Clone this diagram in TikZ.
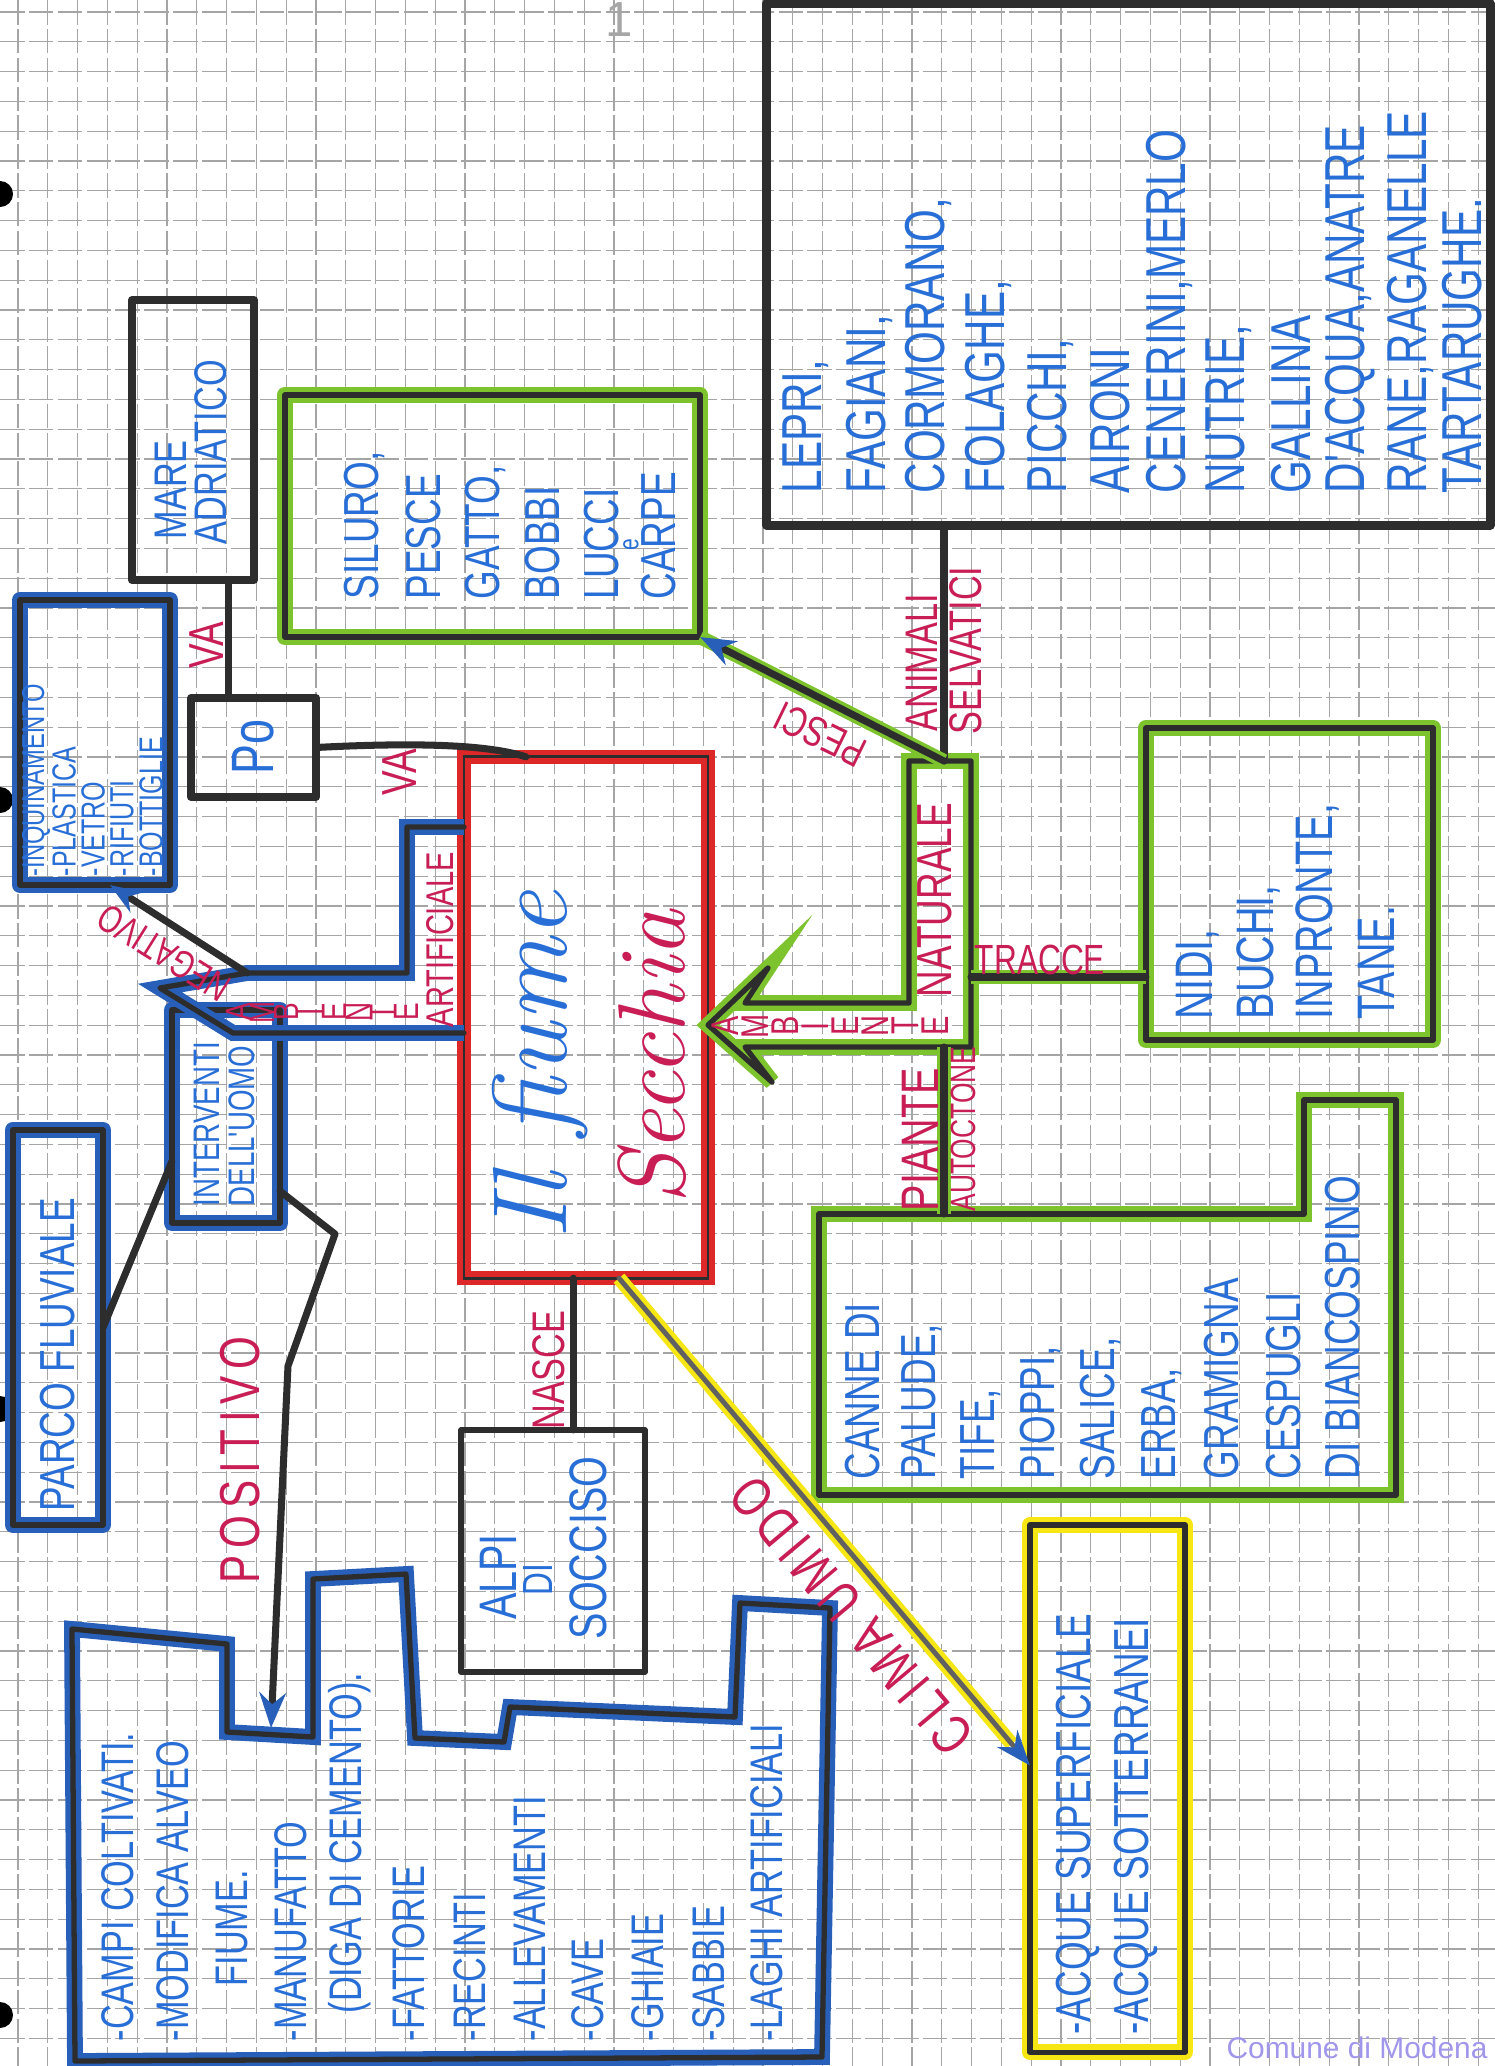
\documentclass[tikz,border=0pt]{standalone}
\usepackage{fontspec}
\usepackage{tikz}
\usetikzlibrary{arrows.meta,calc}

\newfontfamily\hand[FakeStretch=0.75]{Liberation Sans}
\newfontfamily\handsp[FakeStretch=0.75,LetterSpace=12]{Liberation Sans}
\newfontfamily\plain{Liberation Sans}
\newcommand{\fsz}[1]{\fontsize{#1}{#1}\selectfont}

\definecolor{pencil}{RGB}{45,45,45}
\definecolor{leaf}{RGB}{125,195,45}
\definecolor{crayonblue}{RGB}{40,95,185}
\definecolor{crayonred}{RGB}{220,40,40}
\definecolor{crayonyellow}{RGB}{245,230,20}
\definecolor{inkblue}{RGB}{40,110,215}
\definecolor{inkred}{RGB}{200,30,85}
\definecolor{gridgray}{RGB}{165,165,165}
\definecolor{stamp}{RGB}{160,150,235}

\tikzset{
  inkline/.style={draw=pencil, line width=1.5pt, line join=round, line cap=round},
  blackbox/.style={inkline, line width=2.2pt},
  greenbox/.style={inkline, preaction={draw=leaf, line width=4.5pt}},
  bluebox/.style={inkline, preaction={draw=crayonblue, line width=4.5pt}},
  yellowbox/.style={inkline, preaction={draw=crayonyellow, line width=4.5pt}},
  redbox/.style={draw=pencil, line width=0.8pt, preaction={draw=crayonred, line width=4pt}},
  box/.style={rectangle, inner sep=0pt, outer sep=0pt},
  link/.style={inkline, line width=2pt},
  vtxt/.style={rotate=90, anchor=west, inner sep=0pt, text=inkblue, font=\hand\fsz{#1}},
  vtxt/.default=13,
  tag/.style={inner sep=0pt, text=inkred, font=\hand\fsz{#1}},
  tag/.default=12,
  lbl/.style={tag=#1, rotate=90},
  lbl/.default=12
}

\begin{document}
\begin{tikzpicture}[x=0.01cm, y=-0.01cm]
  \useasboundingbox (0,0) rectangle (1495,2066);

  % squared paper
  \fill[white] (0,0) rectangle (1495,2066);
  \begin{scope}
    \clip (0,0) rectangle (1495,2066);
    \foreach \k in {0,...,50}
      \draw[gridgray, line width=0.35pt, dash pattern=on 7pt off 1.2pt] (18+29.8*\k,0) -- ++(0,2066);
    \foreach \k in {0,...,69}
      \draw[gridgray, line width=0.35pt, dash pattern=on 7pt off 1.2pt] (0,12+29.8*\k) -- ++(1495,0);
    \foreach \y in {194,800,1409,2015}
      \fill[black] (0,\y) circle (0.13cm);
  \end{scope}
  \node[text=gray!70, font=\plain\fsz{14}] (pagenum) at (619,20) {1};
  \node[text=stamp, font=\plain\fsz{8.5}] (stamp) at (1357,2048) {Comune di Modena};

  % boxes
  \node[box, blackbox, line width=2.5pt, minimum width=7.23cm, minimum height=5.21cm] (animals) at (1128.5,264.5) {};
  \node[box, greenbox, minimum width=4.15cm, minimum height=2.42cm] (fish) at (492.5,516) {};
  \node[box, blackbox, minimum width=1.22cm, minimum height=2.8cm] (mare) at (193,440) {};
  \node[box, blackbox, minimum width=1.25cm, minimum height=0.99cm] (po) at (253.5,747.5) {};
  \node[box, bluebox, minimum width=1.5cm, minimum height=2.85cm] (pollu) at (95,742.5) {};
  \node[box, redbox, minimum width=2.44cm, minimum height=5.21cm] (secchia) at (586,1017.5) {};
  \node[box, greenbox, minimum width=2.87cm, minimum height=3.12cm] (nests) at (1289.5,884) {};
  \node[box, bluebox, minimum width=1.08cm, minimum height=2.13cm] (interv) at (226,1116.5) {};
  \node[box, bluebox, minimum width=0.9cm, minimum height=3.95cm] (parco) at (58,1327.5) {};
  \node[box, inkline, minimum width=1.84cm, minimum height=2.42cm] (alpi) at (553,1551) {};
  \node[box, yellowbox, minimum width=1.55cm, minimum height=5.27cm] (acque) at (1107.5,1788.5) {};

  % plants and human works
  \draw[greenbox] (819,1214) -- (1304,1214) -- (1304,1100) -- (1396,1100)
    -- (1396,1495) -- (819,1495) -- cycle;
  \draw[bluebox] (72,1629) -- (227,1644) -- (227,1732) -- (313,1737) -- (313,1579)
    -- (406,1574) -- (415,1738) -- (504,1742) -- (510,1707) -- (735,1717)
    -- (740,1603) -- (830,1608) -- (822,2057) -- (75,2061) -- cycle;
  \coordinate (notch) at (271,1728);

  % natural environment
  \coordinate (natA) at (944,761);
  \coordinate (natB) at (944,1047);
  \coordinate (natE) at (971,977);
  \draw[greenbox] (secchia.east |- 0,1025) -- (768,968) -- (745,1003) -- (909,1003)
    -- (909,761) -- (971,761) -- (971,1047) -- (745,1047) -- (772,1082) -- cycle;
  \foreach \l [count=\i] in {A,M,B,I,E,N,T,E}
    \node[lbl=11] (natl\i) at (695+30*\i,1026) {\l};
  \node[lbl=14, anchor=west] (natural) at (935,998) {NATURALE};

  % artificial environment
  \coordinate (artL) at (247,973);
  \draw[bluebox] (secchia.west |- 0,827) -- (407,827) -- (407,973) -- (artL)
    -- (160,988) -- (233,1033) -- (secchia.west |- 0,1033);
  \foreach \l [count=\i] in {A,M,B,I,E,N,T,E}
    \node[lbl=10] (artl\i) at (214+24*\i,1012) {\l};
  \node[lbl=11, anchor=west] (artificial) at (440,1028) {ARTIFICIALE};

  % connectors
  \draw[link] ([xshift=0.35cm]mare.south) -- ([xshift=0.35cm]mare.south |- po.north);
  \node[lbl=14] (va1) at (207,645) {VA};
  \draw[link] (po.east) .. controls (420,742) and (490,745) .. ([xshift=0.62cm]secchia.north west);
  \node[lbl=14] (va2) at (400,772) {VA};

  \draw[link, -{Stealth[length=9pt, color=crayonblue]}] (artL) -- ([xshift=0.15cm]pollu.south)
    node[pos=0.5, rotate=148, anchor=south, tag=11, inner sep=3pt] (negativo) {NEGATIVO};
  \draw[link, -{Stealth[length=10pt, color=crayonblue]}]
    ($(interv.north east)!0.85!(interv.south east)$) -- (335,1234) -- (288,1366) -- (notch);
  \node[lbl=16, font=\handsp\fsz{16}] (positivo) at (240,1460) {POSITIVO};
  \draw[link] ($(interv.north west)!0.71!(interv.south west)$) -- (parco.east);

  \draw[link] ([xshift=0.2cm]alpi.north) -- ([xshift=0.2cm]alpi.north |- secchia.south);
  \node[lbl=13] (nasce) at (549,1370) {NASCE};

  \draw[crayonyellow, line width=4pt, shorten >=8pt] ([xshift=0.33cm]secchia.south) -- ([yshift=0.23cm]acque.west);
  \draw[link, draw=pencil!75, line width=1.4pt, -{Stealth[length=10pt, color=crayonblue]}]
    ([xshift=0.33cm]secchia.south) -- ([yshift=0.23cm]acque.west)
    node[pos=0.64, rotate=130, anchor=south, tag=16, font=\handsp\fsz{16}, inner sep=5pt] (clima) {CLIMA UMIDO};

  \draw[link] (natA) -- (natA |- animals.south);
  \node[lbl=13, anchor=west] (animali) at (922,732) {ANIMALI};
  \node[lbl=13, anchor=west] (selvatici) at (966,735) {SELVATICI};
  \draw[link, -{Stealth[length=10pt, color=crayonblue]}, preaction={draw=leaf, line width=4pt, arrows=-}]
    (natA) -- (fish.south east) node[pos=0.45, rotate=154, anchor=south, tag=12, inner sep=4pt] (pesci) {PESCI};

  \draw[link, preaction={draw=leaf, line width=4pt}] (natB) -- (natB |- 0,1214);
  \node[lbl=15, anchor=west] (piante) at (920,1212) {PIANTE};
  \node[lbl=10, anchor=west] (autoctone) at (963,1212) {AUTOCTONE};
  \draw[link, preaction={draw=leaf, line width=4pt}] (natE) -- (natE -| nests.west);
  \node[tag=12] (tracce) at (1040,960) {TRACCE};

  % texts in the boxes
  \foreach \x/\t [count=\i] in {806/{LEPRI,}, 869/{FAGIANI,}, 928/{CORMORANO,}, 988/{FOLAGHE,},
      1050/{PICCHI,}, 1110/{AIRONI}, 1169/{CENERINI,MERLO}, 1229/{NUTRIE,}, 1291/{GALLINA},
      1350/{D'ACQUA,ANATRE}, 1410/{RANE,RAGANELLE}, 1462/{TARTARUGHE.}}
    \node[vtxt=16] (ani\i) at (\x,494) {\t};
  \foreach \x/\t [count=\i] in {364/{SILURO,}, 424/{PESCE}, 485/{GATTO,}, 543/{BOBBI},
      602/{LUCCI}, 659/{CARPE}}
    \node[vtxt=14] (pes\i) at (\x,600) {\t};
  \node[vtxt=8, anchor=center] (fishe) at (631,545) {e};
  \node[vtxt=13] (maretxt) at (171,540) {MARE};
  \node[vtxt=13] (adriatico) at (211,545) {ADRIATICO};
  \node[vtxt=17, anchor=center] (potxt) at (253,747) {Po};
  \node[vtxt=9] (inq) at (36,877) {-INQUINAMENTO};
  \foreach \x/\t [count=\i] in {64/{-PLASTICA}, 93/{-VETRO}, 122/{-RIFIUTI}, 151/{-BOTTIGLIE}}
    \node[vtxt=9.5] (inq\i) at (\x,877) {\t};
  \node[rotate=90, anchor=west, inner sep=0pt, text=inkblue, font=\rmfamily\itshape\fsz{30}] (ilfiume) at (540,1240) {Il fiume};
  \node[rotate=90, anchor=west, inner sep=0pt, text=inkred, font=\rmfamily\itshape\fsz{27}] (secchianame) at (652,1205) {Secchia};
  \foreach \x/\t [count=\i] in {1198/{NIDI,}, 1258/{BUCHI,}, 1317/{INPRONTE,}, 1376/{TANE.}}
    \node[vtxt=15] (tra\i) at (\x,1020) {\t};
  \node[vtxt=10.5] (intv1) at (207,1207) {INTERVENTI};
  \node[vtxt=10.5] (intv2) at (242,1207) {DELL'UOMO};
  \node[vtxt=14] (parcotxt) at (58,1512) {PARCO FLUVIALE};
  \foreach \x/\t [count=\i] in {863/{CANNE DI}, 922/{PALUDE,}, 981/{TIFE,}, 1040/{PIOPPI,},
      1100/{SALICE,}, 1162/{ERBA,}, 1222/{GRAMIGNA}, 1284/{CESPUGLI}, 1343/{DI BIANCOSPINO}}
    \node[vtxt=14] (pla\i) at (\x,1480) {\t};
  \node[vtxt=15, anchor=center] (alpi1) at (498,1577) {ALPI};
  \node[vtxt=12, anchor=center] (alpi2) at (538,1580) {DI};
  \node[vtxt=15, anchor=center] (alpi3) at (588,1548) {SOCCISO};
  \foreach \x/\y/\t [count=\i] in {118/2042/{-CAMPI COLTIVATI.}, 173/2042/{-MODIFICA ALVEO},
      232/1987/{FIUME.}, 291/2042/{-MANUFATTO}, 350/2014/{(DIGA DI CEMENTO).},
      409/2042/{-FATTORIE}, 470/2042/{-RECINTI}, 530/2042/{-ALLEVAMENTI}, 588/2042/{-CAVE},
      648/2042/{-GHIAIE}, 709/2042/{-SABBIE}, 767/2042/{-LAGHI ARTIFICIALI}}
    \node[vtxt=13] (uomo\i) at (\x,\y) {\t};
  \node[vtxt=14] (acq1) at (1078,2035) {-ACQUE SUPERFICIALE};
  \node[vtxt=14] (acq2) at (1136,2035) {-ACQUE SOTTERRANEI};
\end{tikzpicture}
\end{document}
